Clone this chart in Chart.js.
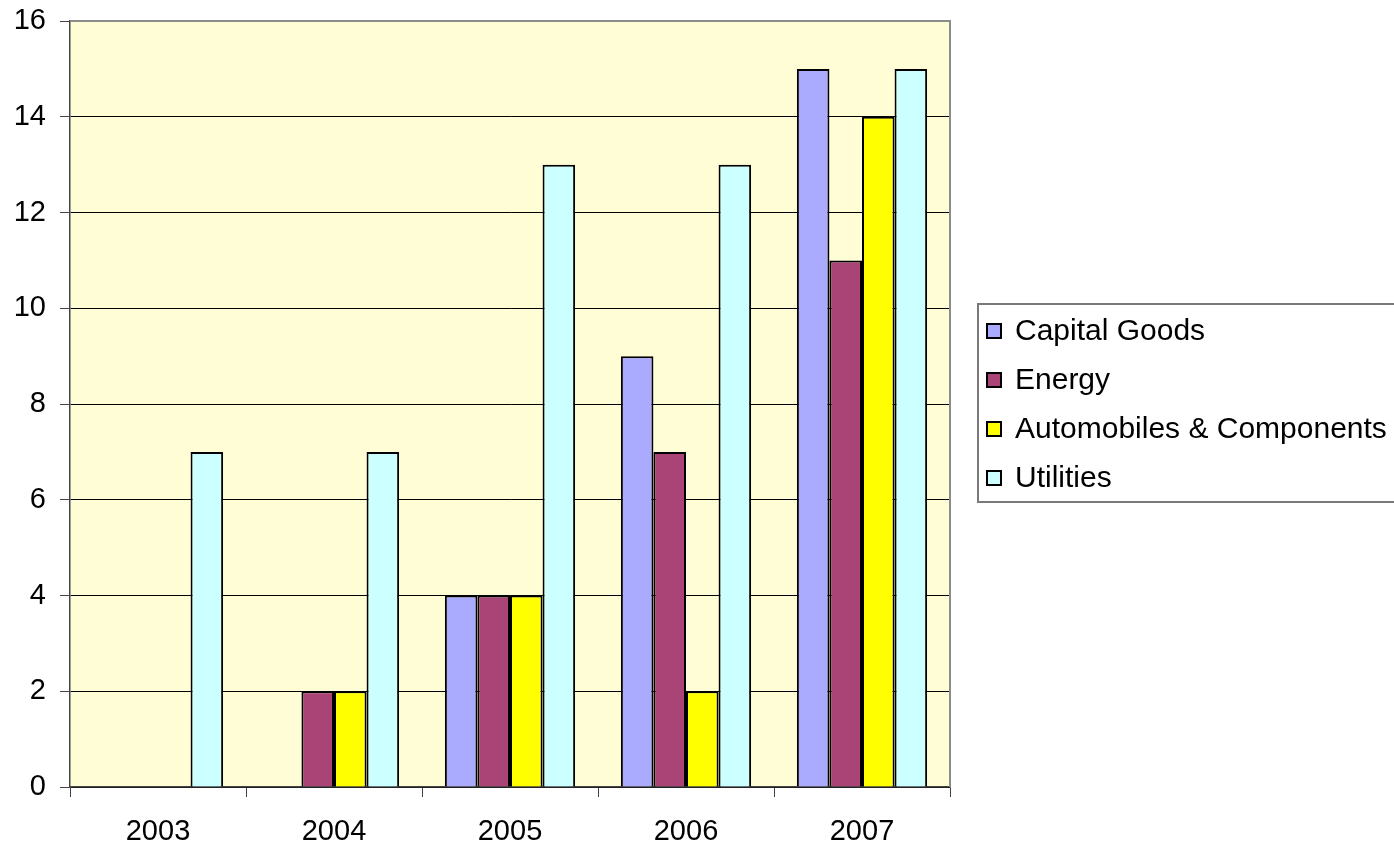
<!DOCTYPE html>
<html lang="en">
<head>
    <meta charset="UTF-8">
    <title>Sector Chart</title>
    <script src="https://cdn.jsdelivr.net/npm/chart.js"></script>
    <style>
        html, body { margin: 0; padding: 0; background: #ffffff; }
        #wrap { width: 1394px; height: 847px; }
    </style>
</head>
<body>
<div id="wrap"><canvas id="sectorChart" width="1394" height="847"></canvas></div>
<script>
    // data
    var years = ['2003', '2004', '2005', '2006', '2007'];
    var capitalGoods = [0, 0, 4, 9, 15];
    var energy = [0, 2, 4, 7, 11];
    var automobiles = [0, 2, 4, 2, 14];
    var utilities = [7, 7, 13, 13, 15];
    var seriesNames = ['Capital Goods', 'Energy', 'Automobiles & Components', 'Utilities'];
    var seriesColors = ['#AAAAFF', '#AA4477', '#FFFF00', '#CCFFFF'];

    var FONT = '"Liberation Sans", Arial, sans-serif';

    // plot background + grey frame (top/right)
    var plotFrame = {
        id: 'plotFrame',
        beforeDraw: function (chart) {
            var a = chart.chartArea, ctx = chart.ctx;
            ctx.save();
            ctx.fillStyle = '#FFFDD6';
            ctx.fillRect(a.left, a.top, a.right - a.left, a.bottom - a.top);
            ctx.restore();
        },
        afterDraw: function (chart) {
            var a = chart.chartArea, ctx = chart.ctx;
            ctx.save();
            ctx.strokeStyle = '#8c8c8c';
            ctx.lineWidth = 2;
            ctx.beginPath();
            ctx.moveTo(a.left, a.top);
            ctx.lineTo(a.right, a.top);
            ctx.lineTo(a.right, a.bottom);
            ctx.stroke();
            ctx.restore();
        }
    };

    // boxed legend on the right
    var boxLegend = {
        id: 'boxLegend',
        afterDraw: function (chart) {
            var ctx = chart.ctx;
            var x0 = 978, y0 = 304, w = 430, h = 198;
            ctx.save();
            ctx.strokeStyle = '#7a7a7a';
            ctx.lineWidth = 2;
            ctx.strokeRect(x0, y0, w, h);
            ctx.font = '30px ' + FONT;
            ctx.textBaseline = 'middle';
            chart.data.datasets.forEach(function (ds, i) {
                var cy = 331 + i * 49;
                ctx.fillStyle = ds.backgroundColor;
                ctx.fillRect(987, cy - 7, 14, 14);
                ctx.strokeStyle = '#000000';
                ctx.lineWidth = 2;
                ctx.strokeRect(987, cy - 7, 14, 14);
                ctx.fillStyle = '#000000';
                ctx.fillText(ds.label, 1015, cy + 1);
            });
            ctx.restore();
        }
    };

    var seriesData = [capitalGoods, energy, automobiles, utilities];

    var sectorChart = new Chart(document.getElementById('sectorChart'), {
        type: 'bar',
        data: {
            labels: years,
            datasets: seriesData.map(function (vals, i) {
                return {
                    label: seriesNames[i],
                    data: vals,
                    backgroundColor: seriesColors[i],
                    borderColor: '#000000',
                    borderWidth: 2,
                    barPercentage: 1.0,
                    categoryPercentage: 0.74
                };
            })
        },
        options: {
            responsive: false,
            animation: false,
            devicePixelRatio: 1,
            layout: { padding: { left: 0, top: 21, right: 444, bottom: 0 } },
            plugins: {
                legend: { display: false },
                tooltip: { enabled: false }
            },
            scales: {
                x: {
                    afterFit: function (s) { s.height = 60; s.paddingLeft = 0; s.paddingRight = 0; },
                    grid: {
                        offset: true,
                        drawOnChartArea: false,
                        drawTicks: true,
                        tickLength: 10,
                        color: '#444444',
                        lineWidth: 1
                    },
                    border: { color: '#444444', width: 1.5 },
                    ticks: {
                        color: '#000000',
                        padding: 18,
                        font: { family: FONT, size: 29 }
                    }
                },
                y: {
                    min: 0,
                    max: 16,
                    afterFit: function (s) { s.width = 70; s.paddingTop = 0; s.paddingBottom = 0; },
                    grid: {
                        color: '#000000',
                        lineWidth: 1,
                        drawTicks: true,
                        tickLength: 10,
                        tickColor: '#444444'
                    },
                    border: { color: '#444444', width: 1.5 },
                    ticks: {
                        stepSize: 2,
                        color: '#000000',
                        padding: 14,
                        font: { family: FONT, size: 29 }
                    }
                }
            }
        },
        plugins: [plotFrame, boxLegend]
    });
</script>
</body>
</html>
